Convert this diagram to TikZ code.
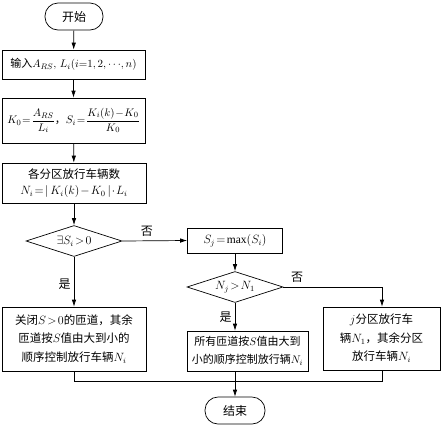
\documentclass[tikz,border=0pt]{standalone}
\usepackage{amsmath}
\usepackage{fontspec}
\setmainfont{Liberation Serif}
\newfontfamily\cjk{Noto Sans CJK SC}
\usetikzlibrary{arrows.meta,shapes.geometric}
\newcommand\mytight{\thickmuskip=1.5mu\relax\medmuskip=1mu\relax}
\newcommand\mymid{\thickmuskip=2mu\relax\medmuskip=1.5mu\relax}
\begin{document}
\begin{tikzpicture}[x=1pt,y=-1pt,line width=0.7pt,
  box/.style={draw,rectangle,inner sep=0pt,align=center,font=\cjk\fontsize{11.5}{18.5}\selectfont\mymid},
  term/.style={draw,rectangle,rounded corners=13pt,inner sep=0pt,minimum width=58pt,minimum height=27pt,font=\cjk\fontsize{12}{14}\selectfont},
  dia/.style={draw,diamond,shape aspect=3,inner sep=0pt,minimum width=96pt,minimum height=31pt,font=\fontsize{11.5}{14}\selectfont\mymid},
  arr/.style={-{Latex[length=7pt,width=4.5pt]}},
  lab/.style={font=\cjk\fontsize{12}{14}\selectfont,inner sep=0pt}]
\useasboundingbox (0,0) rectangle (441,426);
\node[term] (start) at (74,16.5) {开始};
\node[box,minimum width=143pt,minimum height=29pt,font=\cjk\fontsize{11}{14}\selectfont\mytight] (in) at (73.5,64.5) {输入$A_{RS},\,L_i(i{=}1,2,\cdots\!,n)$};
\node[box,minimum width=143pt,minimum height=45pt,font=\cjk\fontsize{11}{14}\selectfont\mytight] (ks) at (73.5,120.5) {$K_0=\dfrac{A_{RS}}{L_i}$，$S_i=\dfrac{K_i(k)-K_0}{K_0}$};
\node[box,minimum width=144pt,minimum height=40pt,font=\cjk\fontsize{11.5}{16}\selectfont\mymid] (ni) at (74,183) {各分区放行车辆数\\$N_i=|\,K_i(k)-K_0\,|\cdot L_i$};
\node[dia] (d1) at (74,241) {$\exists S_i>0$};
\node[box,minimum width=95pt,minimum height=25pt] (sj) at (235,240.5) {$S_j=\max(S_i)$};
\node[dia] (d2) at (235,287) {$N_j>N_1$};
\node[box,minimum width=144pt,minimum height=64pt] (lbox) at (74,339) {关闭$S>0$的匝道，其余\\匝道按$S$值由大到小的\\顺序控制放行车辆$N_i$};
\node[box,minimum width=121pt,minimum height=40pt,font=\cjk\fontsize{11}{18}\selectfont] (mbox) at (247.5,351) {所有匝道按$S$值由大到\\小的顺序控制放行辆$N_i$};
\node[box,minimum width=117pt,minimum height=63pt] (rbox) at (381.5,338.5) {$j$分区放行车\\辆$N_1$，其余分区\\放行车辆$N_i$};
\node[term,minimum width=60pt] (end) at (235,410.5) {结束};
\coordinate (m1) at (74,381);
\coordinate (m2) at (235,381);
\coordinate (m3) at (382,381);
\draw[arr] (start) -- (in);
\draw[arr] (in) -- (ks);
\draw[arr] (ks) -- (ni);
\draw[arr] (ni) -- (d1);
\draw[arr] (d1.east) -- (sj.west) node[lab,pos=0.38,above=4pt] {否};
\draw[arr] (sj) -- (d2);
\draw[arr] (d2.east) -| (m3 |- rbox.north) node[lab,pos=0.07,above=4pt] {否};
\draw[arr] (d2.south) -- (d2.south |- mbox.north) node[lab,midway,left=3pt] {是};
\draw[arr] (d1.south) -- (lbox.north) node[lab,pos=0.55,left=3pt] {是};
\draw (lbox.south) -- (m1) -- (m3) -- (m3 |- rbox.south);
\draw (m2 |- mbox.south) -- (m2);
\draw[arr] (m2) -- (end);
\end{tikzpicture}
\end{document}
